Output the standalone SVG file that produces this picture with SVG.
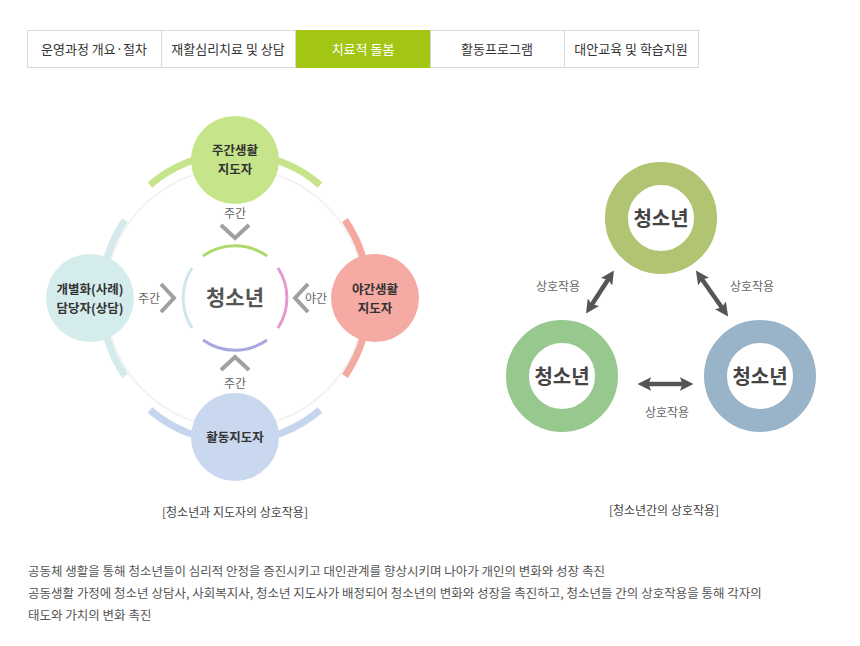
<svg xmlns="http://www.w3.org/2000/svg" width="860" height="646" viewBox="0 0 860 646">
<style>
text{font-family:"Noto Sans CJK KR","Noto Sans",sans-serif}
.tab{fill:#fff;stroke:#d9d9d9}
.tt{font-size:13px;fill:#333;text-anchor:middle}
.nl{font-size:12.5px;font-weight:bold;fill:#333;text-anchor:middle}
.sm{font-size:12px;fill:#666;text-anchor:middle}
.chev{fill:none;stroke:#a0a0a0;stroke-width:4}
.cap{font-size:12px;fill:#444;text-anchor:middle}
.body{font-size:12.5px;fill:#555}
.dbl{stroke:#555;stroke-width:4.5;fill:none}
.ring{fill:none;stroke-width:23}
.yt{font-size:20px;font-weight:bold;fill:#444;text-anchor:middle}
</style>
<defs>
<marker id="ah" viewBox="0 0 10 10" refX="6" refY="5" markerWidth="3" markerHeight="3" orient="auto-start-reverse"><path d="M0,0 L10,5 L0,10 L2,5 z" fill="#555"/></marker>
</defs>
<g id="tabs">
<rect class="tab" x="27.5" y="30.5" width="134" height="37"/>
<rect class="tab" x="161.5" y="30.5" width="134" height="37"/>
<rect x="296" y="30" width="134" height="38" fill="#a3c614"/>
<rect class="tab" x="430.5" y="30.5" width="134" height="37"/>
<rect class="tab" x="564.5" y="30.5" width="134" height="37"/>
<text class="tt" x="94" y="54">운영과정 개요·절차</text>
<text class="tt" x="228" y="54">재활심리치료 및 상담</text>
<text class="tt" x="363" y="54" style="fill:#fff">치료적 돌봄</text>
<text class="tt" x="497" y="54">활동프로그램</text>
<text class="tt" x="631" y="54">대안교육 및 학습지원</text>
</g>
<g id="left-diagram">
<circle cx="235" cy="298" r="130" fill="none" stroke="#f2f2f2" stroke-width="2"/>
<g fill="none" stroke-width="7">
<path d="M150,185 A130,130 0 0 1 320,185" stroke="#c6e48a"/>
<path d="M345,220 A140,140 0 0 1 345,376" stroke="#f3a8a0"/>
<path d="M125,220 A140,140 0 0 0 125,376" stroke="#d5eaea"/>
<path d="M150,410 A130,130 0 0 0 320,410" stroke="#c6d5ee"/>
</g>
<g fill="none" stroke-width="3">
<path d="M203,256 A55,55 0 0 1 267,256" stroke="#b0d96c"/>
<path d="M278,268 A55,55 0 0 1 278,328" stroke="#e49ad0"/>
<path d="M203,340 A55,55 0 0 0 267,340" stroke="#a8a8e0"/>
<path d="M192,268 A55,55 0 0 0 192,328" stroke="#cfe6ea"/>
</g>
<text x="235" y="305" style="font-size:21px;font-weight:bold;fill:#555;text-anchor:middle">청소년</text>
<path class="chev" d="M221,225 L235,238 L249,225"/>
<text class="sm" x="235" y="218">주간</text>
<path class="chev" d="M221,370 L235,357 L249,370"/>
<text class="sm" x="235" y="388">주간</text>
<path class="chev" d="M161,284 L174,298 L161,312"/>
<text class="sm" x="149" y="303">주간</text>
<path class="chev" d="M308,284 L295,298 L308,312"/>
<text class="sm" x="316" y="303">야간</text>
<g id="n-day"><circle cx="235" cy="160" r="44" fill="#c6e48a"/><text class="nl" x="235" y="155">주간생활</text><text class="nl" x="235" y="174">지도자</text></g>
<g id="n-night"><circle cx="375" cy="298" r="44" fill="#f5aaa3"/><text class="nl" x="375" y="294">야간생활</text><text class="nl" x="375" y="313">지도자</text></g>
<g id="n-case"><circle cx="90" cy="298" r="44" fill="#d5ecec"/><text class="nl" x="90" y="294">개별화(사례)</text><text class="nl" x="90" y="313">담당자(상담)</text></g>
<g id="n-act"><circle cx="235" cy="437" r="44" fill="#c9d8ef"/><text class="nl" x="235" y="442">활동지도자</text></g>
<text class="cap" x="235" y="517">[청소년과 지도자의 상호작용]</text>
</g>
<g id="right-diagram">
<g id="y1"><circle cx="661" cy="218" r="44.5" class="ring" stroke="#b0c472"/><text class="yt" x="661" y="226">청소년</text></g>
<g id="y2"><circle cx="562" cy="376" r="44.5" class="ring" stroke="#97c98f"/><text class="yt" x="562" y="384">청소년</text></g>
<g id="y3"><circle cx="760" cy="376" r="44.5" class="ring" stroke="#99b4c9"/><text class="yt" x="760" y="384">청소년</text></g>
<g id="connectors">
<line class="dbl" x1="611" y1="275" x2="589" y2="309" marker-start="url(#ah)" marker-end="url(#ah)"/>
<line class="dbl" x1="699" y1="275" x2="725" y2="312" marker-start="url(#ah)" marker-end="url(#ah)"/>
<line class="dbl" x1="643" y1="384" x2="688" y2="384" marker-start="url(#ah)" marker-end="url(#ah)"/>
</g>
<text class="sm" x="558" y="291">상호작용</text>
<text class="sm" x="752" y="291">상호작용</text>
<text class="sm" x="667" y="417">상호작용</text>
<text class="cap" x="664" y="515">[청소년간의 상호작용]</text>
</g>
<g id="body">
<text class="body" x="28" y="576">공동체 생활을 통해 청소년들이 심리적 안정을 증진시키고 대인관계를 향상시키며 나아가 개인의 변화와 성장 촉진</text>
<text class="body" x="28" y="598">공동생활 가정에 청소년 상담사, 사회복지사, 청소년 지도사가 배정되어 청소년의 변화와 성장을 촉진하고, 청소년들 간의 상호작용을 통해 각자의</text>
<text class="body" x="28" y="620">태도와 가치의 변화 촉진</text>
</g>
</svg>
